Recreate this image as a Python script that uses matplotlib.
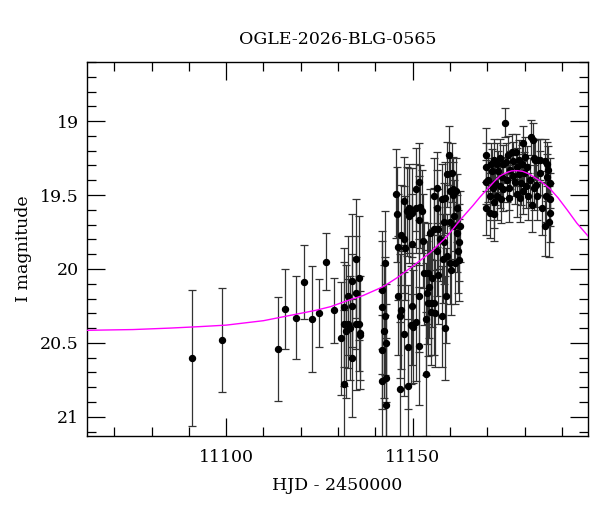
import matplotlib
matplotlib.use("Agg")
import matplotlib.pyplot as plt
from matplotlib.ticker import MultipleLocator
import numpy as np

plt.rcParams['font.family'] = ['DejaVu Serif']

title = "OGLE-2026-BLG-0565"

# early sparse points
hjd_a = [11090.8, 11098.8, 11113.8, 11115.8, 11118.8, 11120.8, 11122.9, 11124.9, 11126.7, 11128.8]
mag_a = [20.60, 20.48, 20.54, 20.27, 20.33, 20.09, 20.34, 20.30, 19.95, 20.28]
err_a = [0.46, 0.35, 0.35, 0.27, 0.28, 0.25, 0.36, 0.23, 0.19, 0.22]

# first dense group
hjd_b = [11130.8, 11131.6, 11131.6, 11131.6, 11132.1, 11132.7, 11132.7, 11133.1, 11133.8,
         11133.8, 11133.8, 11134.7, 11134.7, 11134.9, 11135.6, 11135.6, 11135.8, 11135.8]
mag_b = [20.47, 20.78, 20.37, 20.26, 20.42, 20.18, 20.37, 20.40, 20.08,
         20.25, 20.60, 20.16, 20.37, 19.93, 20.06, 20.37, 20.43, 20.45]
err_b = [0.38, 0.50, 0.42, 0.40, 0.45, 0.40, 0.30, 0.35, 0.45,
         0.35, 0.40, 0.38, 0.45, 0.40, 0.42, 0.32, 0.38, 0.30]

# second group
hjd_c = [11141.7, 11141.7, 11141.7, 11141.9, 11142.6, 11142.6, 11142.4, 11142.8, 11142.8, 11142.8]
mag_c = [20.14, 20.26, 20.55, 20.76, 19.96, 20.32, 20.42, 20.50, 20.74, 20.92]
err_c = [0.40, 0.45, 0.40, 0.45, 0.35, 0.40, 0.45, 0.40, 0.50, 0.45]

# third group, rising branch
hjd_d = [11145.6, 11145.8, 11146.0, 11146.2, 11146.6, 11146.6, 11146.8, 11146.8, 11147.7, 11147.7,
         11147.7, 11148.0, 11148.6, 11148.7, 11148.7, 11148.9, 11149.1, 11149.5, 11149.8, 11149.8,
         11149.8, 11150.0, 11150.9, 11150.9, 11150.9, 11151.6, 11151.6, 11151.7, 11151.8, 11152.0,
         11152.6, 11152.8, 11153.1, 11153.5, 11153.7, 11153.8, 11154.0, 11154.2, 11154.5, 11154.7,
         11154.9, 11155.0, 11155.1, 11155.6, 11155.8, 11155.8, 11156.0, 11156.5, 11156.6, 11156.6,
         11156.8, 11156.9, 11157.2, 11157.8, 11157.8, 11158.0, 11158.3, 11158.4, 11158.6, 11158.7,
         11158.9, 11159.1, 11159.2, 11159.8, 11159.9, 11159.9, 11160.1, 11160.2, 11160.5, 11160.8,
         11160.9, 11161.1, 11161.2, 11161.4, 11161.7, 11161.8, 11161.8, 11162.1, 11162.3, 11162.5,
         11162.7]
mag_d = [19.49, 19.63, 19.85, 20.18, 20.81, 20.32, 20.28, 19.77, 19.54, 19.80,
         20.44, 19.86, 19.61, 20.53, 20.79, 19.64, 19.59, 20.38, 19.62, 19.83,
         20.25, 20.39, 19.46, 19.59, 20.36, 19.41, 20.18, 20.52, 19.67, 19.58,
         19.61, 19.81, 20.03, 20.34, 20.71, 20.16, 20.23, 20.03, 20.12, 19.76,
         20.29, 20.23, 20.06, 19.51, 19.73, 20.23, 20.30, 19.59, 19.45, 19.88,
         20.04, 19.73, 19.80, 19.53, 20.32, 19.93, 19.68, 19.82, 19.52, 20.40,
         20.18, 19.36, 19.91, 19.23, 19.68, 19.96, 19.47, 20.01, 19.35, 19.50,
         19.46, 19.64, 19.71, 19.96, 19.47, 19.59, 19.76, 19.88, 19.82, 19.94,
         19.71]
err_d = [0.30, 0.32, 0.36, 0.40, 0.45, 0.42, 0.40, 0.34, 0.30, 0.36,
         0.42, 0.35, 0.30, 0.42, 0.45, 0.32, 0.30, 0.40, 0.30, 0.34,
         0.40, 0.38, 0.28, 0.30, 0.40, 0.26, 0.38, 0.40, 0.30, 0.28,
         0.28, 0.32, 0.35, 0.38, 0.42, 0.35, 0.36, 0.34, 0.35, 0.30,
         0.36, 0.35, 0.33, 0.26, 0.28, 0.35, 0.36, 0.26, 0.24, 0.30,
         0.33, 0.27, 0.28, 0.24, 0.34, 0.30, 0.26, 0.28, 0.24, 0.35,
         0.32, 0.22, 0.28, 0.20, 0.25, 0.28, 0.22, 0.30, 0.20, 0.22,
         0.22, 0.24, 0.25, 0.28, 0.22, 0.23, 0.26, 0.28, 0.26, 0.28,
         0.24]

# peak season
hjd_e = [11169.7, 11169.7, 11169.7, 11169.7, 11170.3, 11170.6, 11170.8, 11171.0, 11171.2, 11171.5,
         11171.7, 11171.7, 11171.9, 11172.1, 11172.6, 11172.7, 11173.0, 11173.3, 11173.5, 11173.6,
         11173.9, 11174.2, 11174.3, 11174.8, 11175.0, 11175.3, 11175.5, 11175.7, 11175.9, 11176.1,
         11176.6, 11176.9, 11177.0, 11177.5, 11177.7, 11177.9, 11178.1, 11178.4, 11178.6, 11178.8,
         11179.0, 11179.3, 11179.5, 11179.7, 11179.9, 11180.2, 11180.4, 11180.6, 11181.0, 11181.5,
         11181.8, 11182.0, 11182.2, 11182.4, 11182.6, 11182.8, 11183.1, 11183.3, 11183.5, 11184.0,
         11184.2, 11184.6, 11185.5, 11185.5, 11185.8, 11186.0, 11186.1, 11186.4, 11186.5, 11186.7,
         11186.9, 11186.9]
mag_e = [19.23, 19.31, 19.41, 19.59, 19.40, 19.62, 19.51, 19.29, 19.34, 19.45,
         19.55, 19.63, 19.26, 19.42, 19.29, 19.51, 19.34, 19.44, 19.25, 19.53,
         19.38, 19.29, 19.46, 19.01, 19.28, 19.40, 19.23, 19.52, 19.45, 19.33,
         19.21, 19.37, 19.27, 19.41, 19.21, 19.31, 19.49, 19.36, 19.26, 19.52,
         19.42, 19.29, 19.47, 19.15, 19.35, 19.24, 19.44, 19.31, 19.51, 19.40,
         19.11, 19.57, 19.13, 19.25, 19.45, 19.26, 19.43, 19.51, 19.26, 19.26,
         19.35, 19.59, 19.27, 19.71, 19.51, 19.38, 19.29, 19.33, 19.68, 19.53,
         19.42, 19.62]
err_e = [0.18, 0.16, 0.15, 0.18, 0.15, 0.17, 0.16, 0.14, 0.15, 0.16,
         0.17, 0.18, 0.14, 0.15, 0.14, 0.16, 0.14, 0.15, 0.13, 0.16,
         0.14, 0.13, 0.15, 0.10, 0.13, 0.15, 0.13, 0.16, 0.15, 0.13,
         0.12, 0.14, 0.13, 0.15, 0.12, 0.13, 0.16, 0.14, 0.13, 0.16,
         0.15, 0.13, 0.16, 0.12, 0.14, 0.13, 0.15, 0.14, 0.16, 0.15,
         0.12, 0.18, 0.12, 0.13, 0.15, 0.13, 0.15, 0.16, 0.14, 0.14,
         0.15, 0.18, 0.15, 0.20, 0.17, 0.16, 0.15, 0.16, 0.24, 0.18,
         0.17, 0.20]

# fitted model curve
model_hjd = [11062.7, 11075.0, 11085.0, 11093.0, 11100.0, 11110.0, 11118.0, 11124.0, 11128.0,
             11133.0, 11136.7, 11142.1, 11145.8, 11150.1, 11154.7, 11159.2, 11162.7, 11166.2,
             11168.0, 11170.0, 11172.0, 11173.5, 11175.0, 11176.5, 11178.0, 11179.5, 11181.0,
             11182.3, 11184.5, 11186.9, 11189.0, 11191.4, 11194.0, 11197.1]
model_mag = [20.415, 20.41, 20.40, 20.39, 20.38, 20.35, 20.31, 20.28, 20.255,
             20.21, 20.18, 20.12, 20.06, 19.98, 19.89, 19.78, 19.67, 19.57,
             19.515, 19.46, 19.405, 19.37, 19.35, 19.337, 19.335, 19.34, 19.355,
             19.375, 19.41, 19.46, 19.52, 19.60, 19.69, 19.78]

hjd = np.concatenate([hjd_a, hjd_b, hjd_c, hjd_d, hjd_e])
mag = np.concatenate([mag_a, mag_b, mag_c, mag_d, mag_e])
err = np.concatenate([err_a, err_b, err_c, err_d, err_e])

fig = plt.figure(figsize=(6, 5.12), dpi=100)
ax = fig.add_axes([0.145, 0.1484, 0.835, 0.7306])

ax.errorbar(hjd, mag, yerr=err, fmt='o', color='black', ms=4.3,
            ecolor='#333333', elinewidth=0.9, capsize=3, capthick=0.9, zorder=2)
ax.plot(model_hjd, model_mag, color='#ff00ff', lw=1.0, zorder=3)

ax.set_xlim(11062.7, 11197.0)
ax.set_ylim(21.13, 18.6)

ax.xaxis.set_major_locator(MultipleLocator(50))
ax.xaxis.set_minor_locator(MultipleLocator(10))
ax.yaxis.set_major_locator(MultipleLocator(0.5))
ax.yaxis.set_minor_locator(MultipleLocator(0.1))
ax.yaxis.set_major_formatter(plt.FuncFormatter(lambda v, p: ('%g' % v)))

ax.tick_params(which='both', direction='in', top=True, right=True, labelsize=12.5, width=0.9)
ax.tick_params(which='major', length=13)
ax.tick_params(which='minor', length=6.5)
ax.tick_params(axis='x', pad=9)
ax.tick_params(axis='y', pad=6)
for s in ax.spines.values():
    s.set_linewidth(1.0)

ax.set_title(title, fontsize=12.5, pad=13)
ax.set_xlabel("HJD - 2450000", fontsize=12.5, labelpad=8)
ax.set_ylabel("I magnitude", fontsize=12.5, labelpad=6)

fig.savefig("out.png", dpi=100)
